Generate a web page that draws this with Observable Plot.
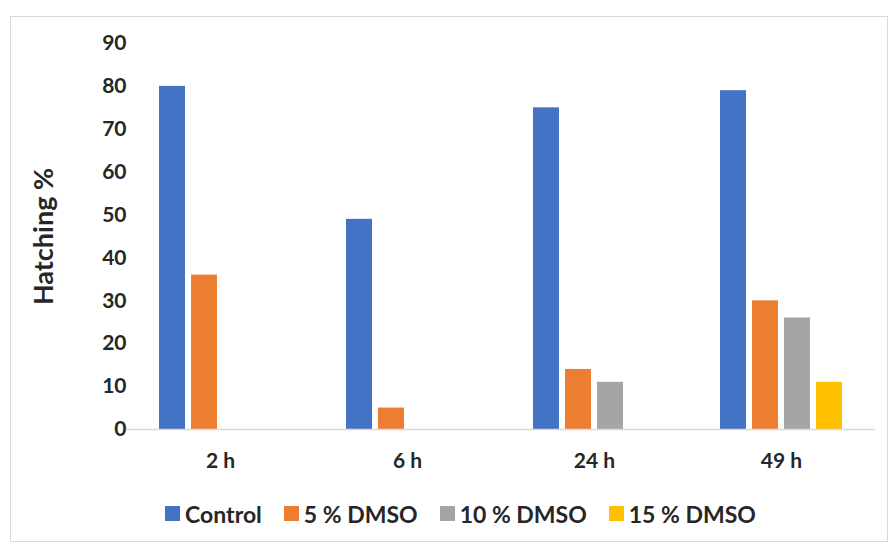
<!DOCTYPE html>
<html>
<head>
<meta charset="utf-8">
<script src="https://cdn.jsdelivr.net/npm/d3@7"></script>
<script src="https://cdn.jsdelivr.net/npm/@observablehq/plot@0.6"></script>
<style>
  html, body { margin: 0; padding: 0; background: #fff; }
  #frame {
    position: absolute; left: 10px; top: 16px;
    width: 878px; height: 526px;
    border: 1px solid #d9d9d9; box-sizing: border-box;
    font-family: Lato, "Open Sans", sans-serif;
  }
  #chart svg { display: block; }
  #legend { display: flex; justify-content: center; margin-top: 18px; padding-left: 23px; }
  #legend [class$="-swatch"] { margin-right: 22px !important; }
  #legend [class$="-swatch"]:last-child { margin-right: 0 !important; }
  #legend [class$="-swatch"] > svg { margin-right: 5px !important; }
</style>
</head>
<body>
<div id="frame">
  <div id="chart"></div>
  <div id="legend"></div>
</div>
<script>
const groups = ["2 h", "6 h", "24 h", "49 h"];
const seriesNames = ["Control", "5 % DMSO", "10 % DMSO", "15 % DMSO"];
const colors = ["#4472C4", "#ED7D31", "#A5A5A5", "#FFC000"];
const control = [80, 49, 75, 79];
const dmso5 = [36, 5, 14, 30];
const dmso10 = [0, 0, 11, 26];
const dmso15 = [0, 0, 0, 11];
const yTicks = [0, 10, 20, 30, 40, 50, 60, 70, 80, 90];

const seriesValues = [control, dmso5, dmso10, dmso15];
const data = [];
groups.forEach((g, gi) => {
  seriesNames.forEach((s, si) => {
    data.push({group: g, series: s, value: seriesValues[si][gi]});
  });
});

const textColor = "#262626";
const chart = Plot.plot({
  width: 876,
  height: 462,
  marginLeft: 115,
  marginRight: 11,
  marginTop: 26,
  marginBottom: 50,
  style: {fontFamily: "Lato, 'Open Sans', sans-serif", fontSize: "21px", fontWeight: "bold", color: textColor, background: "transparent"},
  fx: {domain: groups, paddingInner: 0.26, paddingOuter: 0.13, label: null},
  x: {domain: seriesNames, padding: 0.2, axis: null},
  y: {domain: [0, 90], ticks: yTicks, label: null},
  color: {domain: seriesNames, range: colors},
  marks: [
    Plot.axisY({ticks: yTicks, tickSize: 0, tickPadding: 25, label: null, fontSize: 21}),
    Plot.axisFx({anchor: "bottom", tickSize: 0, tickPadding: 24, label: null, fontSize: 21}),
    Plot.text(["Hatching %"], {frameAnchor: "left", textAnchor: "middle", lineAnchor: "middle", dx: -107, rotate: -90, facet: "super", fontSize: 27, fontWeight: "bold", fill: textColor}),
    Plot.barY(data, {fx: "group", x: "series", y: "value", fill: "series"}),
    Plot.ruleY([0], {stroke: "#d9d9d9", strokeWidth: 1.5, insetLeft: -25, insetRight: -25})
  ]
});
document.getElementById("chart").appendChild(chart);

const legend = Plot.legend({
  color: {domain: seriesNames, range: colors},
  legend: "swatches",
  swatchSize: 15,
  style: {fontFamily: "Lato, 'Open Sans', sans-serif", fontSize: "23px", fontWeight: "bold", color: textColor}
});
document.getElementById("legend").appendChild(legend);
</script>
</body>
</html>
